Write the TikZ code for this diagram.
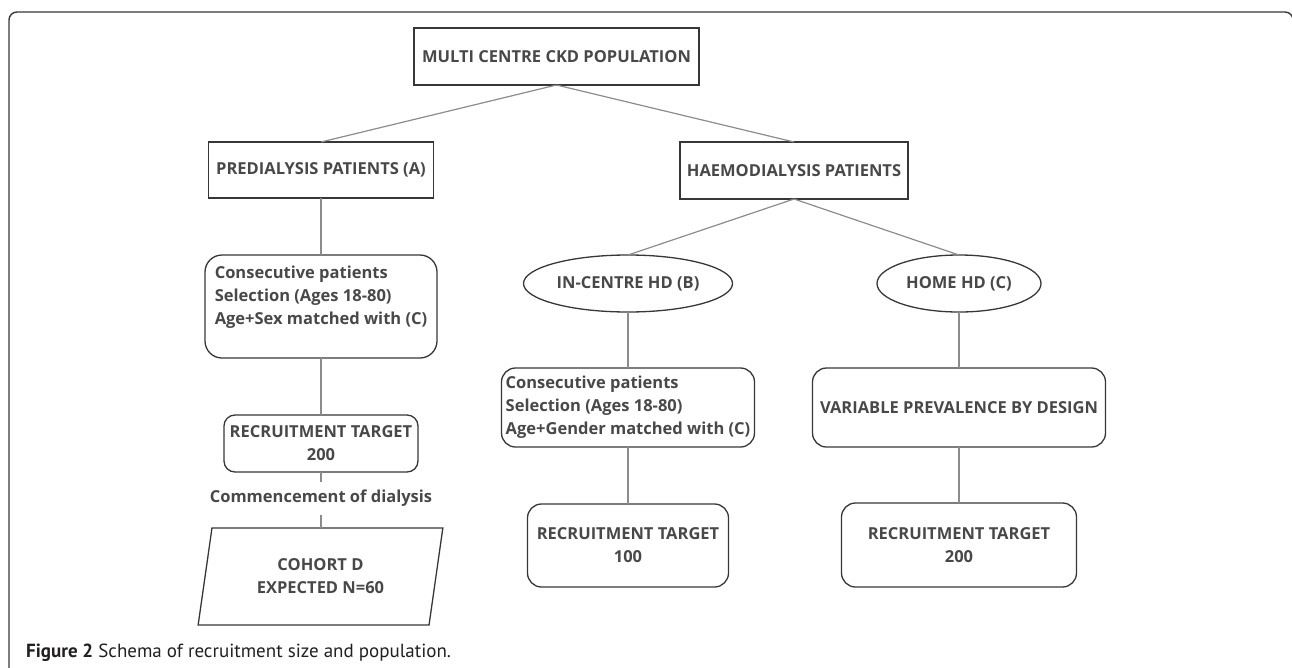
\documentclass[tikz,border=0pt]{standalone}
\usepackage{fontspec}
\usepackage{xcolor}
\setmainfont{Open Sans}
\newfontfamily\capfont{PT Sans}
\usetikzlibrary{positioning}
\usetikzlibrary{shapes.geometric}
\definecolor{boxline}{RGB}{55,55,55}
\definecolor{linkgray}{RGB}{140,140,140}
\definecolor{txtgray}{RGB}{72,72,72}
\definecolor{capblack}{RGB}{35,31,32}

\begin{document}
\begin{tikzpicture}[
					x=1pt, y=-1pt,
					base/.style={draw=boxline, line width=1.3pt, text=txtgray, inner sep=0pt, outer sep=0pt, font=\fontsize{16.5}{23}\selectfont\bfseries, align=center},
					sqbox/.style={base, rectangle},
					rbox/.style={base, rectangle, rounded corners=14pt},
					oval/.style={base, ellipse},
					slant/.style={base, trapezium, trapezium left angle=77, trapezium right angle=103, trapezium stretches=true},
					lbl/.style={text=txtgray, inner sep=0pt, outer sep=0pt, font=\fontsize{16.5}{23}\selectfont\bfseries},
					link/.style={draw=linkgray, line width=1.2pt},
				]
			        \useasboundingbox (0, 0) rectangle (1292, 667);
			        \draw[draw=boxline, line width=1.4pt, rounded corners=8pt] (9, 680) -- (9, 12) -- (1293, 12) -- (1293, 680);

			        \node[sqbox, minimum width=285pt, minimum height=57pt] (ckd) at (556.5, 56.5) {MULTI CENTRE CKD POPULATION};
			        \node[sqbox, minimum width=225pt, minimum height=56pt] (pre) at (321, 170) {PREDIALYSIS PATIENTS (A)};
			        \node[sqbox, minimum width=228pt, minimum height=57pt] (haemo) at (794, 170.5) {HAEMODIALYSIS PATIENTS};

			        \node[rbox, minimum width=232pt, minimum height=103pt, align=left, rounded corners=17pt] (selA) at (321, 306.5) {Consecutive patients\\Selection (Ages 18-80)\\Age+Sex matched with (C)\\\mbox{}};
			        \node[rbox, minimum width=194pt, minimum height=57pt, rounded corners=11pt] (targetA) at (321, 443.5) {RECRUITMENT TARGET\\200};
			        \node[lbl, minimum height=33pt] (start) at (321, 498.5) {Commencement of dialysis};
			        \node[slant, minimum width=245pt, minimum height=97pt] (cohort) at (320.5, 576.5) {COHORT D\\EXPECTED N=60};

			        \node[oval, minimum width=209pt, minimum height=57pt] (centre) at (628, 283.5) {IN-CENTRE HD (B)};
			        \node[rbox, minimum width=253pt, minimum height=79pt, align=left] (selB) at (628, 407.5) {Consecutive patients\\Selection (Ages 18-80)\\Age+Gender matched with (C)};
			        \node[rbox, minimum width=201pt, minimum height=83pt] (targetB) at (628, 545.5) {RECRUITMENT TARGET\\100};

			        \node[oval, minimum width=164pt, minimum height=57pt] (home) at (959, 283.5) {HOME HD (C)};
			        \node[rbox, minimum width=293pt, minimum height=79pt] (prev) at (959, 407.5) {VARIABLE PREVALENCE BY DESIGN};
			        \node[rbox, minimum width=235pt, minimum height=84pt] (targetC) at (959, 545) {RECRUITMENT TARGET\\200};

			        \draw[link] (ckd.south) -- (pre.north);
			        \draw[link] (ckd.south) -- (haemo.north);
			        \draw[link] (pre.south) -- (selA.north);
			        \draw[link] (selA.south) -- (targetA.north);
			        \draw[link] (targetA.south) -- (start.north);
			        \draw[link] (start.south) -- (start.south |- cohort.north);
			        \draw[link] (haemo.south) -- (centre.north);
			        \draw[link] (haemo.south) -- (home.north);
			        \draw[link] (centre.south) -- (selB.north);
			        \draw[link] (selB.south) -- (targetB.north);
			        \draw[link] (home.south) -- (prev.north);
			        \draw[link] (prev.south) -- (targetC.north);

			        \node[anchor=base west, inner sep=0pt, text=capblack, font=\capfont\fontsize{19}{22}\selectfont] (caption) at (26, 657) {\textbf{Figure 2} Schema of recruitment size and population.};
			    \end{tikzpicture}
\end{document}
